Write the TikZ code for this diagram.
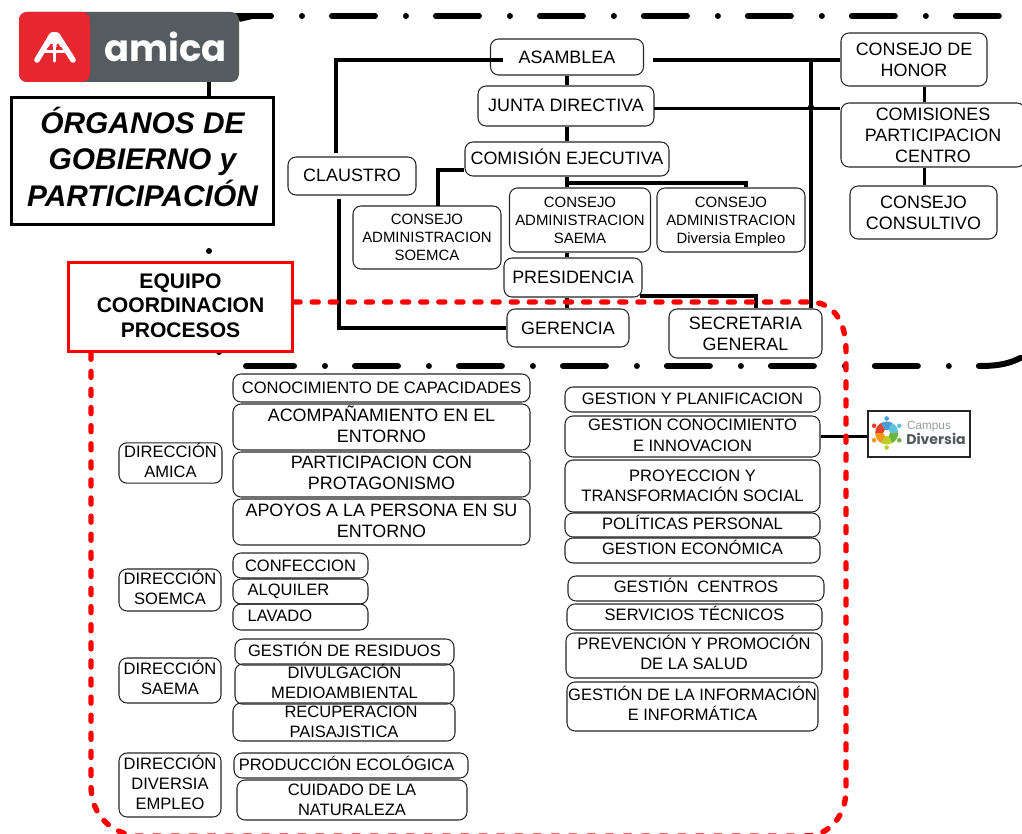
\documentclass[tikz,border=0pt]{standalone}
\usepackage{fontspec}
\setmainfont{Liberation Sans}
\newfontfamily\logofont{Poppins}
\definecolor{logogray}{RGB}{85,91,94}
\definecolor{logored}{RGB}{232,38,47}
\definecolor{campusgray}{RGB}{150,155,158}
\definecolor{campusdark}{RGB}{80,90,92}
\definecolor{petala}{RGB}{95,195,220}
\definecolor{petalb}{RGB}{110,180,60}
\definecolor{petalc}{RGB}{190,205,40}
\definecolor{petald}{RGB}{245,150,30}
\definecolor{petale}{RGB}{230,65,45}
\definecolor{petalf}{RGB}{70,160,215}
\newlength\pxlen
\setlength\pxlen{0.569pt}
\newcommand{\up}[2][0]{\raisebox{#1\pxlen}[\height][\depth]{\begin{tabular}{@{}c@{}}#2\end{tabular}}}
\tikzset{
    bx/.style 2 args={draw=black!85, line width=0.6pt, rounded corners=0.16cm, align=center, inner sep=0pt, minimum width=#1*0.02cm, minimum height=#2*0.02cm},
    fL/.style={font=\fontsize{10.2}{12}\selectfont},
    fM/.style={font=\fontsize{9.4}{11.4}\selectfont},
    fS/.style={font=\fontsize{8.5}{10.2}\selectfont},
    leftbx/.style={align=left, text width=#1*0.02cm},
    conn/.style={draw=black, line width=1.8pt},
    dashdot/.style={draw=black, line width=3.4pt, line cap=round, dash pattern=on 24.47pt off 17.64pt on 0pt off 17.07pt},
    reddash/.style={draw=red, line width=3.1pt, line cap=round, dash pattern=on 3.4pt off 6.9pt},
}
\begin{document}
\begin{tikzpicture}[x=0.02cm, y=-0.02cm]
    \clip (0,0) rectangle (1022,834);
    \fill[white] (0,0) rectangle (1022,834);

    % dash-dot frame
    \coordinate (TL) at (228,16);
    \coordinate (TR) at (999,16);
    \coordinate (BL) at (251,366);
    \draw[dashdot] (TL) -- (TR);
    \draw[dashdot] (BL) -- (979,366) .. controls (998,366) and (1010,364) .. (1024,356);
    \draw[draw=black, line width=3.4pt, line cap=round] (246,366) -- (BL);
    \draw[draw=black, line width=3.4pt] (239,19) -- (252,16);
    \fill (209,251) circle (3);
    \fill (219,352) circle (3);

    % logo
    \node[fill=logogray, rounded corners=0.16cm, minimum width=220*0.02cm, minimum height=70*0.02cm, inner sep=0pt] (LOGO) at (129,47) {};
    \node[fill=logored, rounded corners=0.16cm, minimum width=71*0.02cm, minimum height=70*0.02cm, inner sep=0pt] (LOGOA) at (54.5,47) {};
    \node[text=white, inner sep=0pt, font=\logofont\bfseries\fontsize{21}{24}\selectfont] (AMICA) at (165.5,47) {amica};
    \draw[white, line width=3.2pt, line cap=round, line join=round] (37,60) -- (52,35) -- (57,35) -- (73,60);
    \fill[white] (54.5,33) -- (46,47) -- (63,47) -- cycle;
    \fill[logored] (50.5,44) -- (52.5,44) -- (52.5,49) -- (47.5,49) -- cycle;
    \fill[logored] (58.5,44) -- (56.5,44) -- (56.5,49) -- (61.5,49) -- cycle;
    \draw[white, line width=2.2pt] (43,51.5) -- (66,51.5);
    \draw[white, line width=1.8pt, line cap=round] (54.5,44) -- (54.5,61);

    % title
    \node[draw=black, line width=1.9pt, align=center, inner sep=0pt, minimum width=262*0.02cm, minimum height=127*0.02cm, font=\bfseries\itshape\fontsize{17}{20.5}\selectfont] (TITULO) at (142.5,161) {\up[-1]{ÓRGANOS DE\\GOBIERNO y\\PARTICIPACIÓN}};
    \coordinate (LT) at (209,90);
    \draw[draw=black, line width=2.6pt] (LT |- LOGO.south) -- (LT |- TITULO.north);
    \node[draw=red, fill=white, line width=1.8pt, align=center, inner sep=0pt, minimum width=224*0.02cm, minimum height=89*0.02cm, font=\bfseries\fontsize{12}{14.2}\selectfont] (EQUIPO) at (180.5,307) {\up[-1]{EQUIPO\\COORDINACION\\PROCESOS}};

    % organos
    \node[bx={153}{36}, fL] (ASAMBLEA) at (567,57) {ASAMBLEA};
    \node[bx={176}{40}, fL] (JUNTA) at (566,106) {\up[-1]{JUNTA DIRECTIVA}};
    \node[bx={204}{34}, fL] (COMISION) at (567,159) {\up[-1]{COMISIÓN EJECUTIVA}};
    \node[bx={128}{38}, fL] (CLAUSTRO) at (352,176) {\up[-1]{CLAUSTRO}};
    \node[bx={148}{63}, fS] (SOEMCA) at (427,237.5) {CONSEJO\\ADMINISTRACION\\SOEMCA};
    \node[bx={141}{64}, fS] (SAEMA) at (580,220) {CONSEJO\\ADMINISTRACION\\SAEMA};
    \node[bx={148}{64}, fS] (DIVERSIA) at (731,220) {\up[-2]{CONSEJO\\ADMINISTRACION\\Diversia Empleo}};
    \node[bx={138}{39}, fL] (PRESIDENCIA) at (573,277.5) {PRESIDENCIA};
    \node[bx={122}{38}, fL] (GERENCIA) at (568,328) {GERENCIA};
    \node[bx={153}{49}, fL] (SECRETARIA) at (745.5,333.5) {SECRETARIA\\GENERAL};
    \node[bx={146}{53}, fL] (HONOR) at (914,59.5) {CONSEJO DE\\HONOR};
    \node[bx={184}{64}, fL] (COMISIONES) at (933,135) {COMISIONES\\PARTICIPACION\\CENTRO};
    \node[bx={147}{53}, fL] (CONSULTIVO) at (923.5,212.5) {CONSEJO\\CONSULTIVO};

    % conexiones
    \coordinate (V) at (567,180);
    \coordinate (AL) at (503,60);
    \coordinate (AR) at (653,60);
    \coordinate (CL) at (336,153);
    \coordinate (CG) at (339,199);
    \coordinate (VR) at (811,60);
    \coordinate (HC) at (924.5,90);
    \coordinate (CD) at (746,183);
    \coordinate (PS) at (640,296);
    \coordinate (SS) at (756,296);
    \coordinate (JL) at (654,108.5);
    \draw[conn] (V |- ASAMBLEA.south) -- (V |- JUNTA.north);
    \draw[conn] (V |- JUNTA.south) -- (V |- COMISION.north);
    \draw[conn] (V |- COMISION.south) -- (V |- SAEMA.north);
    \draw[conn] (V |- SAEMA.south) -- (V |- PRESIDENCIA.north);
    \draw[conn] (V |- PRESIDENCIA.south) -- (V |- GERENCIA.north);
    \draw[conn] (AL) -| (CL);
    \draw[conn] (CG) |- (GERENCIA.west);
    \draw[conn] (AR) -- (AR -| HONOR.west);
    \draw[conn] (VR) -- (VR |- SECRETARIA.north);
    \draw[conn] (JL) -- (JL -| COMISIONES.west);
    \fill (811,107.5) circle (3.2);
    \draw[conn] (HC |- HONOR.south) -- (HC |- COMISIONES.north);
    \draw[conn] (HC |- COMISIONES.south) -- (HC |- CONSULTIVO.north);
    \draw[conn] (COMISION.west |- 0,170) -| (438,206);
    \draw[conn] (V |- CD) -| (CD |- DIVERSIA.north);
    \draw[conn] (PS) -| (SS |- SECRETARIA.north);

    % procesos
    \node[bx={103}{40}, fM] (DAMICA) at (170.5,463) {\up{DIRECCIÓN\\AMICA}};
    \node[bx={297}{28}, fM] (P1) at (381.5,388) {CONOCIMIENTO DE CAPACIDADES};
    \node[bx={297}{46}, fL] (P2) at (381.5,427) {\up{ACOMPAÑAMIENTO EN EL\\ENTORNO}};
    \node[bx={297}{45}, fL] (P3) at (381.5,474.5) {\up[-0.5]{PARTICIPACION CON\\PROTAGONISMO}};
    \node[bx={297}{46}, fL] (P4) at (381.5,522) {\up[-0.5]{APOYOS A LA PERSONA EN SU\\ENTORNO}};

    \node[bx={102}{42}, fM] (DSOEMCA) at (170,590) {\up{DIRECCIÓN\\SOEMCA}};
    \node[bx={135}{25}, fM, leftbx=111] (S1) at (300.5,565.5) {CONFECCION};
    \node[bx={135}{25}, fM, leftbx=111] (S2) at (300.5,591.5) {\hspace*{1.5pt}ALQUILER};
    \node[bx={135}{26}, fM, leftbx=111] (S3) at (300.5,617) {\hspace*{1.5pt}\up[-0.5]{LAVADO}};

    \node[bx={102}{45}, fM] (DSAEMA) at (170,680.5) {\up{DIRECCIÓN\\SAEMA}};
    \node[bx={219}{26}, fM] (M1) at (344.5,652) {\up{GESTIÓN DE RESIDUOS}};
    \node[bx={219}{38}, fM] (M2) at (344.5,684) {\up{DIVULGACIÓN\\MEDIOAMBIENTAL}};
    \node[bx={222}{38}, fM] (M3) at (344,722) {\hspace*{8pt}RECUPERACION\\PAISAJISTICA};

    \node[bx={102}{64}, fM] (DDIVERSIA) at (170,785) {\up{DIRECCIÓN\\DIVERSIA\\EMPLEO}};
    \node[bx={234}{25}, fM] (E1) at (351,765.5) {\hspace*{-5pt}\up[-0.5]{PRODUCCIÓN ECOLÓGICA}};
    \node[bx={230}{40}, fM] (E2) at (352,800) {CUIDADO DE LA\\NATURALEZA};

    \node[bx={255}{25}, fM] (R1) at (692.5,399.5) {\up[-0.5]{GESTION Y PLANIFICACION}};
    \node[bx={255}{41}, fM] (R2) at (692.5,436.5) {\up[-0.5]{GESTION CONOCIMIENTO\\E INNOVACION}};
    \node[bx={255}{52}, fM] (R3) at (692.5,486) {PROYECCION Y\\TRANSFORMACIÓN SOCIAL};
    \node[bx={255}{24}, fM] (R4) at (692.5,525) {\up{POLÍTICAS PERSONAL}};
    \node[bx={255}{25}, fM] (R5) at (692.5,550.5) {\up{GESTION ECONÓMICA}};
    \node[bx={256}{25}, fM] (R6) at (696,588.5) {\up{GESTIÓN~ CENTROS}};
    \node[bx={255}{26}, fM] (R7) at (694.5,617) {\up[0.25]{SERVICIOS TÉCNICOS}};
    \node[bx={256}{45}, fM] (R8) at (694,655.5) {\up{PREVENCIÓN Y PROMOCIÓN\\DE LA SALUD}};
    \node[bx={251}{49}, fM] (R9) at (692.5,706.5) {\up{GESTIÓN DE LA INFORMACIÓN\\E INFORMÁTICA}};

    % campus
    \node[draw=black!85, line width=0.7pt, inner sep=0pt, minimum width=102*0.02cm, minimum height=46*0.02cm] (CAMPUS) at (919,434) {};
    \draw[conn] (R2.east |- 0,436.5) -- (CAMPUS.west |- 0,436.5);
    \begin{scope}[shift={(886.7,433)}]
        \foreach \ang/\col in {-90/petalf, -30/petala, 30/petalb, 90/petalc, 150/petald, -150/petale} {
            \fill[\col] (\ang-30:11.5) arc[start angle=\ang-30, end angle=\ang+30, radius=11.5] -- (\ang+30:3.6) arc[start angle=\ang+30, end angle=\ang-30, radius=3.6] -- cycle;
            \fill[\col] (\ang:14.5) circle (2.3);
        }
    \end{scope}
    \node[text=campusgray, inner sep=0pt, font=\fontsize{6.7}{8}\selectfont] (CAMPUSA) at (929,426.5) {Campus};
    \node[text=campusdark, inner sep=0pt, font=\logofont\bfseries\fontsize{8}{9}\selectfont] (CAMPUSB) at (936,439) {Diversia};

    % equipo coordinacion
    \coordinate (RT) at (810,302);
    \draw[reddash] (EQUIPO.east |- RT) -- (RT) .. controls (832,302) and (846,320) .. (846,350) -- (846,790) .. controls (846,815) and (830,836) .. (805,836) -- (135,836) .. controls (110,832) and (91,815) .. (91,785) -- (EQUIPO.south -| 91,0);
\end{tikzpicture}
\end{document}
